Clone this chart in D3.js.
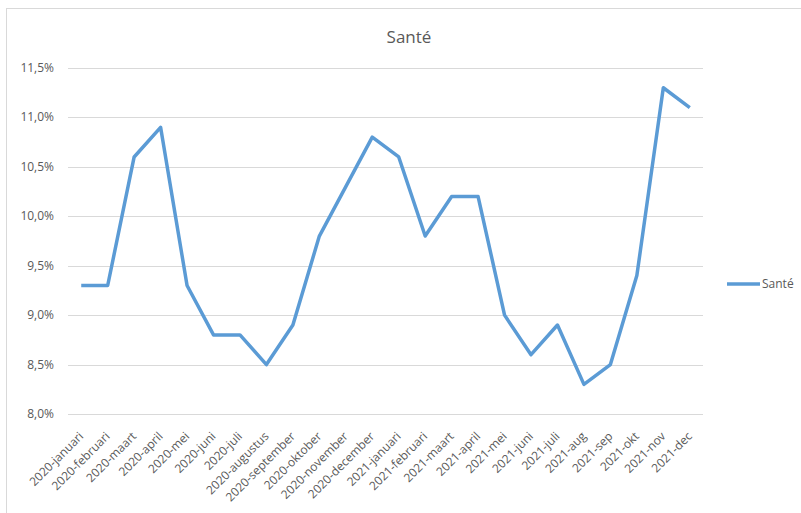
<!DOCTYPE html>
<html><head><meta charset="utf-8">
<script src="https://cdn.jsdelivr.net/npm/d3@7"></script>
<style>body{margin:0;background:#fff}svg{display:block}text{font-family:"Open Sans",sans-serif;fill:#595959}</style>
</head><body><svg id="c" width="801" height="513"></svg>
<script>
const categories = ["2020-januari","2020-februari","2020-maart","2020-april","2020-mei","2020-juni","2020-juli","2020-augustus","2020-september","2020-oktober","2020-november","2020-december","2021-januari","2021-februari","2021-maart","2021-april","2021-mei","2021-juni","2021-juli","2021-aug","2021-sep","2021-okt","2021-nov","2021-dec"];
const values = [9.3,9.3,10.6,10.9,9.3,8.8,8.8,8.5,8.9,9.8,10.3,10.8,10.6,9.8,10.2,10.2,9.0,8.6,8.9,8.3,8.5,9.4,11.3,11.1];
const yTicks = [8.0,8.5,9.0,9.5,10.0,10.5,11.0,11.5];
const seriesName = "Santé";
const title = "Santé";

const svg = d3.select("#c");
svg.append("rect").attr("x",6.5).attr("y",8.5).attr("width",820).attr("height",530)
  .attr("fill","#fff").attr("stroke","#d9d9d9");

const x = d3.scaleBand().domain(categories).range([68,703]);
const y = d3.scaleLinear().domain([8,11.5]).range([414,68]);
const fmt = v => v.toFixed(1).replace(".",",") + "%";

svg.append("g").selectAll("line").data(yTicks).join("line")
  .attr("x1",68).attr("x2",703).attr("y1",d=>Math.round(y(d))+0.5).attr("y2",d=>Math.round(y(d))+0.5)
  .attr("stroke","#d9d9d9").attr("stroke-width",1.2);

svg.append("g").selectAll("text").data(yTicks).join("text")
  .attr("x",54).attr("y",d=>y(d)+4).attr("text-anchor","end").attr("font-size",12).text(fmt);

svg.append("g").selectAll("text").data(categories).join("text")
  .attr("transform",d=>`translate(${x(d)+x.bandwidth()/2+3},437) rotate(-45)`)
  .attr("text-anchor","end").attr("font-size",12).text(d=>d);

const line = d3.line().x((d,i)=>x(categories[i])+x.bandwidth()/2).y(d=>y(d));
svg.append("path").datum(values).attr("d",line).attr("fill","none")
  .attr("stroke","#5B9BD5").attr("stroke-width",3.5).attr("stroke-linejoin","round");

svg.append("text").attr("x",409).attr("y",43).attr("text-anchor","middle").attr("font-size",17).text(title);

svg.append("line").attr("x1",727).attr("x2",760).attr("y1",284).attr("y2",284)
  .attr("stroke","#5B9BD5").attr("stroke-width",3.5);
svg.append("text").attr("x",762).attr("y",288).attr("font-size",12).text(seriesName);
</script></body></html>
